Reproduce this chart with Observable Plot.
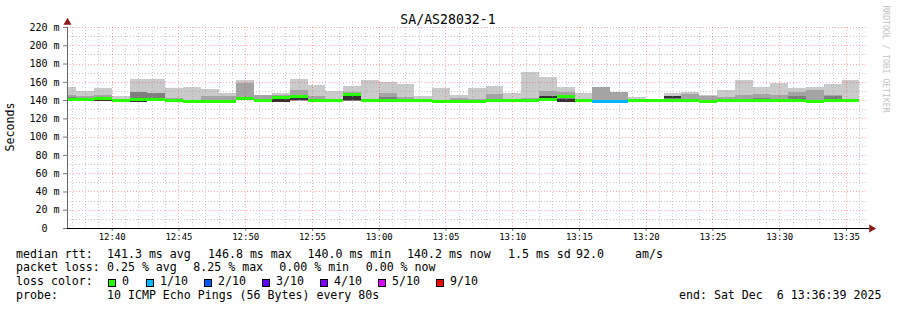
<!DOCTYPE html>
<html><head><meta charset="utf-8">
<script src="https://cdn.jsdelivr.net/npm/d3@7"></script>
<script src="https://cdn.jsdelivr.net/npm/@observablehq/plot@0.6"></script>
<style>
body{margin:0;background:#fff;}
#wrap{position:relative;width:897px;height:310px;overflow:hidden;font-family:"DejaVu Sans Mono",monospace;color:#000;background:#fff;}
#chart{position:absolute;left:0;top:0;}
.t{position:absolute;white-space:pre;font-size:11.6px;line-height:1;}
.sq{position:absolute;width:8px;height:8px;box-sizing:border-box;border:1px solid #000;}
</style></head><body><div id="wrap"><div id="chart"></div></div>
<script>
// ---- data (ms) ----
const graphTitle = "SA/AS28032-1";
const firstBinStart = "2025-12-06T12:36:00Z";
const binSeconds = 80;
const viewStart = "2025-12-06T12:36:39Z";
const viewEnd = "2025-12-06T13:36:39Z";
const yTicks = [0, 20, 40, 60, 80, 100, 120, 140, 160, 180, 200, 220];

const maxV = [154.5, 150.3, 153.2, 144.5, 163.2, 163.2, 153.2, 154.3, 152.1, 147.8, 162.0, 145.6, 147.8, 163.2, 156.8, 150.0, 155.4, 162.2, 159.8, 157.6, 144.8, 153.2, 145.6, 153.2, 155.4, 147.8, 170.7, 165.3, 154.3, 147.8, 154.3, 148.9, 143.4, 140.2, 147.8, 148.9, 145.6, 151.0, 162.0, 154.3, 158.7, 153.2, 154.3, 157.6, 162.0];
const midV = [145.5, 145.0, 145.5, 141.0, 149.0, 148.0, 142.5, 140.0, 144.5, 144.5, 159.0, 145.5, 145.5, 151.4, 144.5, 141.5, 149.0, 141.5, 148.0, 143.0, 141.5, 140.5, 142.5, 141.0, 146.7, 141.5, 142.0, 150.0, 149.0, 141.5, 154.3, 148.9, 141.5, 140.2, 145.0, 147.0, 145.0, 143.0, 145.6, 146.7, 145.6, 148.9, 151.0, 145.6, 141.5];
const darkV = [143, null, 143, null, 148.5, 147.5, null, null, null, null, null, null, 144, null, null, null, 144, null, 143.4, null, null, null, null, null, null, null, null, 143.4, 144, null, null, null, null, null, 143, 141.5, null, null, null, 142.5, null, 144, null, 144, null];
const blackLo = [139.3, 139.3, 139.3, null, 137.5, null, null, null, null, null, null, null, 138.0, 139.8, null, null, 139.8, null, null, null, null, null, null, null, null, null, null, 140.8, 138.3, null, null, null, null, null, 142.3, null, null, null, null, null, null, null, null, null, null];
const blackHi = [140.3, 140.3, 140.3, null, 140.3, null, null, null, null, null, null, null, 141.5, 143.4, null, null, 145.2, null, null, null, null, null, null, null, null, null, null, 144.5, 141.5, null, null, null, null, null, 144.5, null, null, null, null, null, null, null, null, null, null];
const minV = [139.3, 139.3, 139.3, 139.5, 137.5, 139.8, 138.5, 137.5, 137.5, 137.5, 140.5, 139.0, 138.0, 139.5, 138.5, 139.0, 139.5, 139.0, 139.0, 139.0, 139.0, 137.2, 137.2, 137.2, 139.0, 139.0, 139.0, 140.5, 138.3, 139.0, 137.5, 137.5, 139.5, 139.8, 139.5, 139.5, 137.2, 139.0, 139.0, 139.0, 139.0, 139.0, 137.2, 139.0, 139.0];
const medV = [141.5, 141.5, 141.8, 140.5, 141.5, 141.2, 139.8, 138.8, 138.8, 138.8, 142.3, 140.3, 143.4, 144.5, 139.8, 140.4, 146.3, 140.4, 140.3, 140.3, 140.2, 138.5, 138.7, 138.7, 140.3, 140.3, 140.3, 141.2, 144.0, 140.3, 139.0, 139.0, 140.5, 140.0, 140.5, 140.5, 138.7, 140.3, 140.3, 140.6, 140.6, 140.3, 138.7, 140.5, 140.2];
const lossV = [0,0,0,0,0,0,0,0,0,0,0,0,0,0,0,0,0,0,0,0,0,0,0,0,0,0,0,0,0,0,1,1,0,0,0,0,0,0,0,0,0,0,0,0,0];

const lossLevels = ["0", "1/10", "2/10", "3/10", "4/10", "5/10", "9/10"];
const lossColors = ["#26ff00", "#00b8ff", "#0059ff", "#5e00ff", "#7e00ff", "#dd00ff", "#ff0000"];
const smokeColors = ["#cacaca", "#a4a4a4", "#7e7e7e", "#323232"];

const statLine1 = ["median rtt:", "141.3 ms avg", "146.8 ms max", "140.0 ms min", "140.2 ms now", "1.5 ms sd", "92.0", "am/s"];
const statLine2 = ["packet loss:", "0.25 % avg", "8.25 % max", "0.00 % min", "0.00 % now"];
const probeLine = ["probe:", "10 ICMP Echo Pings (56 Bytes) every 80s"];
const endLabel = "end: Sat Dec  6 13:36:39 2025";

// ---- build ----
const t0 = new Date(firstBinStart).getTime();
const bins = maxV.map((mx, i) => ({
  start: new Date(t0 + i * binSeconds * 1000),
  end: new Date(t0 + (i + 1) * binSeconds * 1000),
  max: mx, mid: midV[i], dark: darkV[i], bl: blackLo[i], bh: blackHi[i],
  min: minV[i], med: medV[i], loss: lossColors[lossV[i]]
}));
const vs = new Date(viewStart), ve = new Date(viewEnd);
const allMinutes = d3.utcMinute.range(vs, ve);
const majorT = allMinutes.filter(d => d.getUTCMinutes() % 5 === 0);
const minorT = allMinutes.filter(d => d.getUTCMinutes() % 5 !== 0);
const majorY = yTicks.filter(v => v > 0);
const minorY = yTicks.filter(v => v > 0).map(v => v - 10).concat([]);

const chart = Plot.plot({
  width: 897, height: 245,
  marginLeft: 67, marginRight: 29, marginTop: 27, marginBottom: 17,
  x: {type: "utc", domain: [vs, ve]},
  y: {domain: [0, 220]},
  color: {type: "identity"},
  style: {fontFamily: "DejaVu Sans Mono", background: "transparent", color: "#000"},
  marks: [
    Plot.rect(bins, {x1: "start", x2: "end", y1: "min", y2: "max", fill: smokeColors[0], clip: true, shapeRendering: "crispEdges"}),
    Plot.rect(bins, {x1: "start", x2: "end", y1: "min", y2: "mid", fill: smokeColors[1], clip: true, shapeRendering: "crispEdges"}),
    Plot.rect(bins.filter(d => d.dark != null), {x1: "start", x2: "end", y1: "min", y2: "dark", fill: smokeColors[2], clip: true, shapeRendering: "crispEdges"}),
    Plot.rect(bins.filter(d => d.bl != null), {x1: "start", x2: "end", y1: "bl", y2: "bh", fill: smokeColors[3], clip: true, shapeRendering: "crispEdges"}),
    Plot.gridY(minorY, {stroke: "#9a9a9a", strokeOpacity: 0.55, strokeDasharray: "1,2", shapeRendering: "crispEdges"}),
    Plot.gridX(minorT, {stroke: "#9a9a9a", strokeOpacity: 0.55, strokeDasharray: "1,2", shapeRendering: "crispEdges"}),
    Plot.gridY(majorY, {stroke: "#ff0000", strokeOpacity: 0.35, strokeDasharray: "1,2", shapeRendering: "crispEdges"}),
    Plot.gridX(majorT, {stroke: "#ff0000", strokeOpacity: 0.35, strokeDasharray: "1,2", shapeRendering: "crispEdges"}),
    Plot.ruleY(bins, {y: "med", x1: "start", x2: "end", stroke: "loss", strokeWidth: 3, clip: true, shapeRendering: "crispEdges"}),
    Plot.axisY({ticks: yTicks, tickFormat: d => d === 0 ? "0\u00a0\u00a0" : `${d} m`, tickSize: 4, tickPadding: 4, fontSize: 10, label: null, stroke: "#777"}),
    Plot.axisX({ticks: majorT, tickFormat: d3.utcFormat("%H:%M"), tickSize: 3, tickPadding: 2, fontSize: 9, label: null, stroke: "#777"}),
    Plot.frame({anchor: "left", stroke: "#666"}),
    Plot.frame({anchor: "bottom", stroke: "#000"}),
    Plot.dot([0], {frameAnchor: "top-left", symbol: "triangle", r: 3, fill: "#8b1a1a", dy: -5}),
    Plot.dot([0], {frameAnchor: "bottom-right", symbol: "triangle", r: 3, fill: "#8b1a1a", rotate: 90, dx: 3})
  ]
});
document.getElementById("chart").appendChild(chart);

// ---- texts ----
const wrap = document.getElementById("wrap");
function addText(txt, x, y, style) {
  const d = document.createElement("div");
  d.className = "t"; d.textContent = txt;
  d.style.left = x + "px"; d.style.top = y + "px";
  if (style) Object.assign(d.style, style);
  wrap.appendChild(d);
  return d;
}
addText(graphTitle, 448, 12.8, {fontSize: "13.2px", transform: "translateX(-50%)"});
addText("Seconds", 11, 127, {transform: "translate(-50%,-50%) rotate(-90deg)"});
addText("RRDTOOL / TOBI OETIKER", 886, 59, {fontSize: "8.1px", color: "#c4c4c4", transform: "translate(-50%,-50%) rotate(90deg)"});

const row1X = [16, 107, 208, 307.5, 407, 508, 576, 635];
statLine1.forEach((s, i) => addText(s, row1X[i], 248.5));
const row2X = [16, 107, 193.3, 279.3, 365.7];
statLine2.forEach((s, i) => addText(s, row2X[i], 262.2));
addText("loss color:", 16, 276);
const sqX = [108, 146, 204, 262, 320, 378, 436];
lossLevels.forEach((lv, i) => {
  const q = document.createElement("div");
  q.className = "sq"; q.style.left = sqX[i] + "px"; q.style.top = "279px";
  q.style.background = lossColors[i];
  wrap.appendChild(q);
  addText(lv, sqX[i] + 14, 276);
});
addText(probeLine[0], 16, 289.7);
addText(probeLine[1], 107, 289.7);
addText(endLabel, 679, 289.7);
</script></body></html>
